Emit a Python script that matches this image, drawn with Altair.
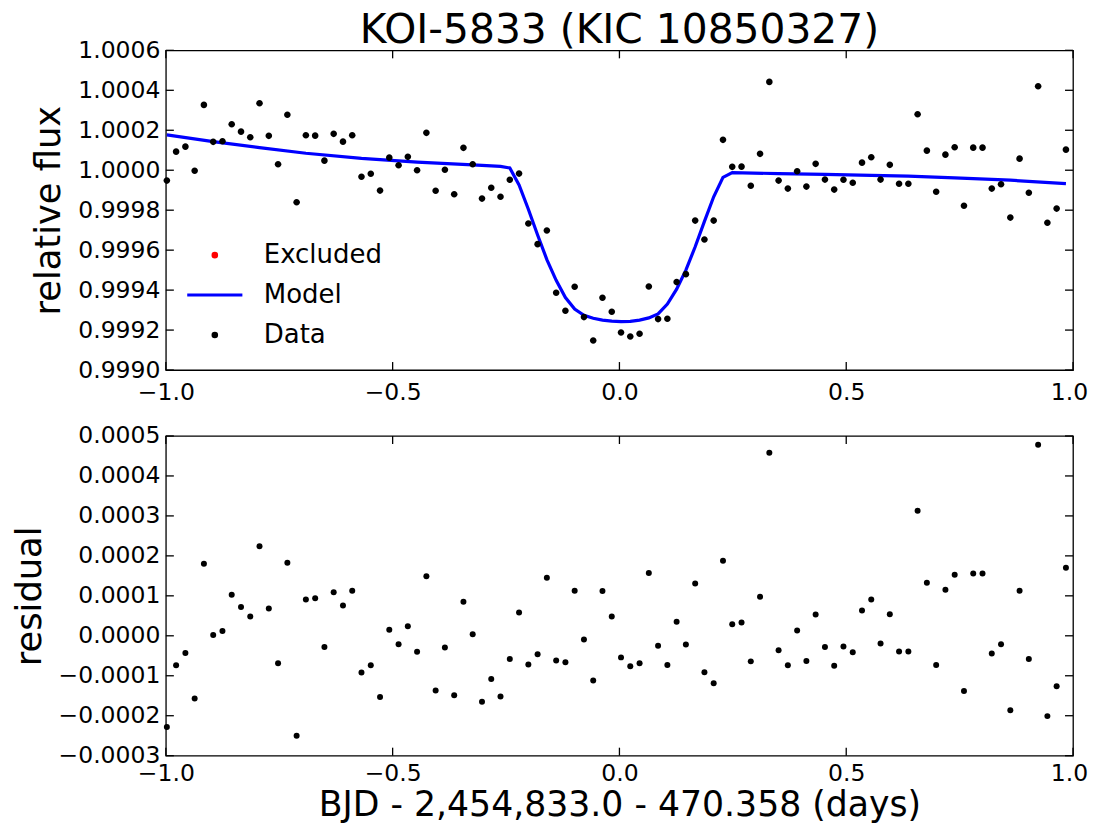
import altair as alt
import pandas as pd

FONT = "DejaVu Sans"
W, H = 908, 320

# ---------------- data ----------------
x_days = [
    -0.9978, -0.9774, -0.9569, -0.9365, -0.9161, -0.8956, -0.8752, -0.8548, -0.8343, -0.8139,
    -0.7935, -0.7730, -0.7526, -0.7321, -0.7117, -0.6913, -0.6708, -0.6504, -0.6300, -0.6095,
    -0.5891, -0.5687, -0.5482, -0.5278, -0.5074, -0.4869, -0.4665, -0.4461, -0.4256, -0.4052,
    -0.3848, -0.3643, -0.3439, -0.3235, -0.3030, -0.2826, -0.2622, -0.2417, -0.2213, -0.2008,
    -0.1804, -0.1600, -0.1395, -0.1191, -0.0987, -0.0782, -0.0578, -0.0374, -0.0169, 0.0035,
    0.0239, 0.0444, 0.0648, 0.0852, 0.1057, 0.1261, 0.1465, 0.1670, 0.1874, 0.2078,
    0.2283, 0.2487, 0.2692, 0.2896, 0.3100, 0.3305, 0.3509, 0.3713, 0.3918, 0.4122,
    0.4326, 0.4531, 0.4735, 0.4939, 0.5144, 0.5348, 0.5552, 0.5757, 0.5961, 0.6165,
    0.6370, 0.6574, 0.6778, 0.6983, 0.7187, 0.7391, 0.7596, 0.7800, 0.8005, 0.8209,
    0.8413, 0.8618, 0.8822, 0.9026, 0.9231, 0.9435, 0.9639, 0.9844,
]

flux = [
    0.999948, 1.000093, 1.000118, 0.999997, 1.000327, 1.000142, 1.000145, 1.000230, 1.000193, 1.000165,
    1.000335, 1.000172, 1.000030, 1.000278, 0.999840, 1.000175, 1.000173, 1.000048, 1.000182, 1.000143,
    1.000175, 0.999967, 0.999982, 0.999898, 1.000063, 1.000025, 1.000067, 1.000000, 1.000187, 0.999897,
    1.000002, 0.999880, 1.000112, 1.000030, 0.999858, 0.999912, 0.999867, 0.999952, 0.999983, 0.999733,
    0.999630, 0.999698, 0.999387, 0.999297, 0.999417, 0.999265, 0.999148, 0.999362, 0.999292, 0.999188,
    0.999168, 0.999182, 0.999418, 0.999255, 0.999257, 0.999440, 0.999480, 0.999748, 0.999653, 0.999748,
    1.000152, 1.000017, 1.000018, 0.999922, 1.000082, 1.000442, 0.999948, 0.999908, 0.999995, 0.999918,
    1.000032, 0.999953, 0.999903, 0.999952, 0.999937, 1.000038, 1.000065, 0.999953, 1.000027, 0.999932,
    0.999932, 1.000280, 1.000098, 0.999892, 1.000078, 1.000115, 0.999822, 1.000113, 1.000113, 0.999908,
    0.999930, 0.999763, 1.000058, 0.999887, 1.000420, 0.999737, 0.999808, 1.000103,
]

residual = [
    -0.000228, -0.000074, -0.000043, -0.000157, 0.000180, 0.000002, 0.000012, 0.000103, 0.000072, 0.000048,
    0.000224, 0.000068, -0.000069, 0.000183, -0.000250, 0.000091, 0.000094, -0.000028, 0.000109, 0.000076,
    0.000113, -0.000092, -0.000074, -0.000153, 0.000015, -0.000021, 0.000024, -0.000040, 0.000149, -0.000137,
    -0.000029, -0.000149, 0.000085, 0.000004, -0.000165, -0.000108, -0.000152, -0.000058, 0.000058, -0.000072,
    -0.000046, 0.000145, -0.000062, -0.000066, 0.000113, -0.000009, -0.000112, 0.000112, 0.000048, -0.000054,
    -0.000076, -0.000069, 0.000157, -0.000025, -0.000073, 0.000035, -0.000022, 0.000131, -0.000091, -0.000119,
    0.000188, 0.000029, 0.000033, -0.000064, 0.000098, 0.000458, -0.000036, -0.000074, 0.000013, -0.000063,
    0.000053, -0.000028, -0.000075, -0.000027, -0.000041, 0.000063, 0.000091, -0.000019, 0.000054, -0.000039,
    -0.000039, 0.000313, 0.000133, -0.000073, 0.000115, 0.000153, -0.000138, 0.000156, 0.000156, -0.000044,
    -0.000021, -0.000186, 0.000113, -0.000058, 0.000478, -0.000201, -0.000126, 0.000170,
]

model_x = [
    -0.9978, -0.8956, -0.7935, -0.6913, -0.5687, -0.4461, -0.3235, -0.2622, -0.2417, -0.2213,
    -0.2008, -0.1804, -0.1600, -0.1395, -0.1191, -0.0987, -0.0782, -0.0578, -0.0374, -0.0169,
    0.0035, 0.0239, 0.0444, 0.0648, 0.0852, 0.1057, 0.1261, 0.1465, 0.1670, 0.1874,
    0.2078, 0.2283, 0.2487, 0.3509, 0.4531, 0.5552, 0.6370, 0.7391, 0.8618, 0.9844,
]
model_flux = [
    1.000177, 1.000143, 1.000113, 1.000085, 1.000059, 1.000041, 1.000027, 1.000019, 1.000011, 0.999926,
    0.999805, 0.999676, 0.999553, 0.999449, 0.999363, 0.999305, 0.999274, 0.999259, 0.999250, 0.999245,
    0.999242, 0.999244, 0.999250, 0.999261, 0.999281, 0.999330, 0.999405, 0.999500, 0.999617, 0.999744,
    0.999867, 0.999964, 0.999988, 0.999983, 0.999979, 0.999974, 0.999970, 0.999962, 0.999950, 0.999933,
]

x_ticks = [-1.0, -0.5, 0.0, 0.5, 1.0]
flux_ticks = [0.9990, 0.9992, 0.9994, 0.9996, 0.9998, 1.0000, 1.0002, 1.0004, 1.0006]
resid_ticks = [-0.0003, -0.0002, -0.0001, 0.0000, 0.0001, 0.0002, 0.0003, 0.0004, 0.0005]

series_names = ["Excluded", "Model", "Data"]
series_colors = ["#ff0000", "#0000ff", "#000000"]
DOT = "M-0.6,0A0.6,0.6,0,1,0,0.6,0A0.6,0.6,0,1,0,-0.6,0Z"
series_shapes = [DOT, "M-9.2,0L9.2,0", DOT]

title_text = "KOI-5833 (KIC 10850327)"
x_title = "BJD - 2,454,833.0 - 470.358 (days)"

# ---------------- tables ----------------
data_df = pd.DataFrame({"x": x_days, "flux": flux, "resid": residual, "series": "Data"})
model_df = pd.DataFrame({"x": model_x, "flux": model_flux, "series": "Model"})
xt_df = pd.DataFrame({"x": x_ticks})
ft_df = pd.DataFrame({"flux": flux_ticks})
rt_df = pd.DataFrame({"resid": resid_ticks})

TICK = 8
LW = 1.3
LABEL_FS = 23.5
YTITLE_FS = 35.3
XTITLE_FS = 34.7


def x_enc(title, label_pad, title_pad):
    return alt.X(
        "x:Q",
        scale=alt.Scale(domain=[-1, 1], nice=False, zero=False),
        axis=alt.Axis(
            values=x_ticks, format=".1f", labelFlush=False, labelOverlap=False,
            ticks=False, tickSize=0, domain=False, grid=False, labelPadding=label_pad,
            labelOffset={"condition": {"test": "datum.value > 0.99", "value": -4}, "value": 0},
            labelFont=FONT, labelFontSize=LABEL_FS, labelColor="black",
            title=title, titlePadding=title_pad, titleFont=FONT, titleFontSize=XTITLE_FS,
            titleFontWeight="normal", titleColor="black",
        ),
    )


def y_enc(field, dom, ticks, title, title_x):
    return alt.Y(
        f"{field}:Q",
        scale=alt.Scale(domain=dom, nice=False, zero=False),
        axis=alt.Axis(
            values=ticks, format=".4f", labelFlush=False, labelOverlap=False,
            ticks=False, tickSize=0, domain=False, grid=False, labelPadding=6,
            labelFont=FONT, labelFontSize=LABEL_FS, labelColor="black",
            title=title, titleFont=FONT, titleFontSize=YTITLE_FS,
            titleFontWeight="normal", titleColor="black",
            titleX=title_x, titleY=H / 2, titleAngle=270, titleAlign="center",
            titleBaseline="alphabetic",
        ),
    )


def tick_layers(xe, ye, tdf):
    xb = alt.Chart(xt_df).mark_rule(color="black", strokeWidth=LW).encode(
        x=xe, y=alt.value(H), y2=alt.value(H - TICK))
    xt = alt.Chart(xt_df).mark_rule(color="black", strokeWidth=LW).encode(
        x=xe, y=alt.value(0), y2=alt.value(TICK))
    yl = alt.Chart(tdf).mark_rule(color="black", strokeWidth=LW).encode(
        y=ye, x=alt.value(0), x2=alt.value(TICK))
    yr = alt.Chart(tdf).mark_rule(color="black", strokeWidth=LW).encode(
        y=ye, x=alt.value(W), x2=alt.value(W - TICK))
    return [xb, xt, yl, yr]


legend = alt.Legend(
    title=None, orient="none", legendX=36, legendY=192, padding=0,
    labelFont=FONT, labelFontSize=26, labelColor="black", labelOffset=36,
    symbolSize=36, symbolStrokeWidth=3, rowPadding=14, labelBaseline="middle",
)


def sc(rng):
    return alt.Scale(domain=series_names, range=rng)


# ---------------- top panel ----------------
xe_top = x_enc(None, 10, 2)
ye_top = y_enc("flux", [0.9990, 1.0006], flux_ticks, "relative flux", -106)

model_line = alt.Chart(model_df).mark_line(strokeWidth=3.2).encode(
    x=xe_top, y=ye_top,
    stroke=alt.Stroke("series:N", scale=sc(series_colors), legend=legend),
)
points_top = alt.Chart(data_df).mark_point(filled=True, size=121, strokeWidth=0, opacity=1).encode(
    x=xe_top, y=ye_top,
    fill=alt.Fill("series:N", scale=sc(series_colors), legend=legend),
    stroke=alt.Stroke("series:N", scale=sc(series_colors), legend=legend),
    shape=alt.Shape("series:N", scale=sc(series_shapes), legend=legend),
)

top = alt.layer(
    model_line, points_top, *tick_layers(xe_top, ye_top, ft_df)
).properties(
    width=W, height=H,
    title=alt.TitleParams(
        text=title_text, font=FONT, fontSize=40.8, fontWeight="normal", color="black",
        anchor="middle", frame="group", baseline="alphabetic", offset=-45,
    ),
)

# ---------------- bottom panel ----------------
xe_bot = x_enc(x_title, 6, 3.5)
ye_bot = y_enc("resid", [-0.0003, 0.0005], resid_ticks, "residual", -125)

points_bot = alt.Chart(data_df).mark_circle(size=36, color="black", opacity=1).encode(
    x=xe_bot, y=ye_bot,
)
bottom = alt.layer(
    points_bot, *tick_layers(xe_bot, ye_bot, rt_df)
).properties(width=W, height=H)

chart = alt.vconcat(top, bottom, spacing=18).properties(
    padding={"left": 4, "top": 0, "right": 0, "bottom": 0},
    background="white",
).configure_view(
    stroke="black", strokeWidth=LW,
)

chart.save("out.html", embed_options={"renderer": "svg", "actions": False})
